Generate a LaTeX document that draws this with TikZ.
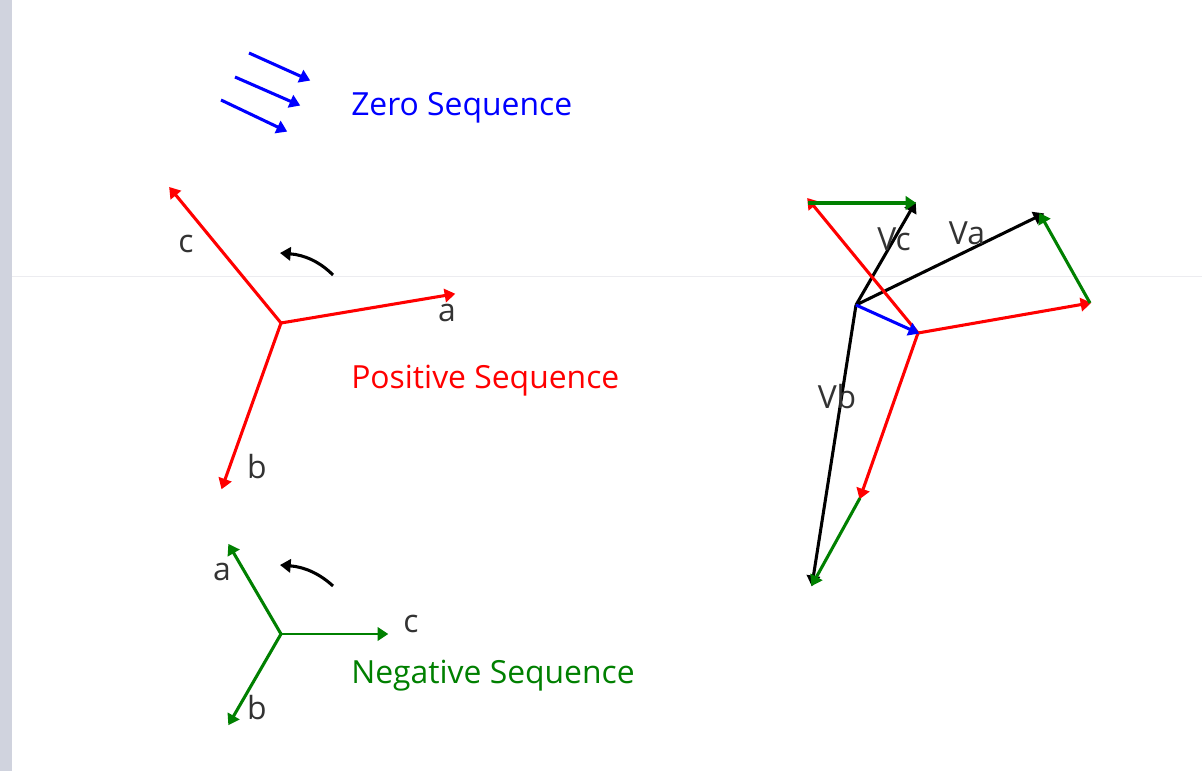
\documentclass[tikz,border=0pt]{standalone}
\usepackage{fontspec}
\setmainfont{Open Sans}
\usetikzlibrary{arrows.meta}
\definecolor{grn}{RGB}{0,128,0}
\definecolor{strip}{RGB}{208,211,222}
\definecolor{hair}{RGB}{236,236,240}
\tikzset{
  vec/.style={line width=2.3pt,-{Triangle[length=8pt,width=10pt]},shorten >=-1pt},
  thinvec/.style={vec,line width=1.9pt},
  rot/.style={line width=2.3pt,-{Triangle[length=8pt,width=10pt]},black},
  lab/.style={inner sep=0pt,font=\fontsize{23.9pt}{25pt}\selectfont,text=#1},
  pt/.style={inner sep=0pt,minimum size=0pt}
}
\begin{document}
\begin{tikzpicture}[x=0.75pt,y=-0.75pt]
\useasboundingbox (0,0) rectangle (1202,771);
\fill[white] (0,0) rectangle (1202,771);
\fill[strip] (0,0) rectangle (12,771);
\fill[hair] (12,275.5) rectangle (1202,277);
% zero sequence
\coordinate (z1s) at (249,53); \coordinate (z1e) at (309,80);
\coordinate (z2s) at (235,77); \coordinate (z2e) at (299,105);
\coordinate (z3s) at (221,100); \coordinate (z3e) at (286,131);
\draw[vec,blue] (z1s) -- (z1e);
\draw[vec,blue] (z2s) -- (z2e);
\draw[vec,blue] (z3s) -- (z3e);
\node[lab=blue,anchor=west] (zt) at (351,108) {Zero Sequence};
% positive
\coordinate (pc) at (281,323);
\coordinate (pa) at (454,294); \coordinate (pb) at (222,488); \coordinate (pcc) at (170,188);
\draw[vec,red] (pc) -- (pa);
\draw[vec,red] (pc) -- (pb);
\draw[vec,red] (pc) -- (pcc);
\node[lab=black!80] (lpc) at (186,244) {c};
\node[lab=black!80] (lpa) at (447,313) {a};
\node[lab=black!80] (lpb) at (257,467) {b};
\coordinate (r1s) at (333,275); \coordinate (r1e) at (280,253);
\draw[rot] (r1s) .. controls (320,262) and (305,255) .. (r1e);
\node[lab=red,anchor=west] (pt) at (351,381) {Positive Sequence};
% negative
\coordinate (nc) at (281,634);
\coordinate (na) at (229,545); \coordinate (nb) at (229,724); \coordinate (ncc) at (387,634);
\draw[vec,grn] (nc) -- (na);
\draw[vec,grn] (nc) -- (nb);
\draw[thinvec,grn] (nc) -- (ncc);
\node[lab=black!80] (lna) at (222,572) {a};
\node[lab=black!80] (lnb) at (257,708) {b};
\node[lab=black!80] (lnc) at (411,624) {c};
\coordinate (r2s) at (333,586); \coordinate (r2e) at (280,565);
\draw[rot] (r2s) .. controls (320,574) and (305,567) .. (r2e);
\node[lab=grn,anchor=west] (nt) at (351,676) {Negative Sequence};
% phasor sum
\coordinate (o) at (856,305);
\coordinate (m) at (918,333);
\coordinate (ra) at (1090,303); \coordinate (rb) at (860,498); \coordinate (rc) at (808,199);
\coordinate (va) at (1043,214); \coordinate (vb) at (812,585); \coordinate (vc) at (915,203);
\coordinate (ga) at (1040,214); \coordinate (gc) at (808,203);
\draw[vec,black] (o) -- (va);
\draw[vec,black] (o) -- (vb);
\draw[vec,black] (o) -- (vc);
\draw[vec,red] (m) -- (ra);
\draw[vec,red] (m) -- (rb);
\draw[vec,red] (m) -- (rc);
\draw[vec,grn] (ra) -- (ga);
\draw[vec,grn] (rb) -- (vb);
\draw[vec,grn] (gc) -- (vc);
\draw[vec,blue] (o) -- (m);
\node[lab=black!80] (lva) at (967,233) {Va};
\node[lab=black!80] (lvb) at (837,397) {Vb};
\node[lab=black!80] (lvc) at (894,239) {Vc};
\end{tikzpicture}
\end{document}
